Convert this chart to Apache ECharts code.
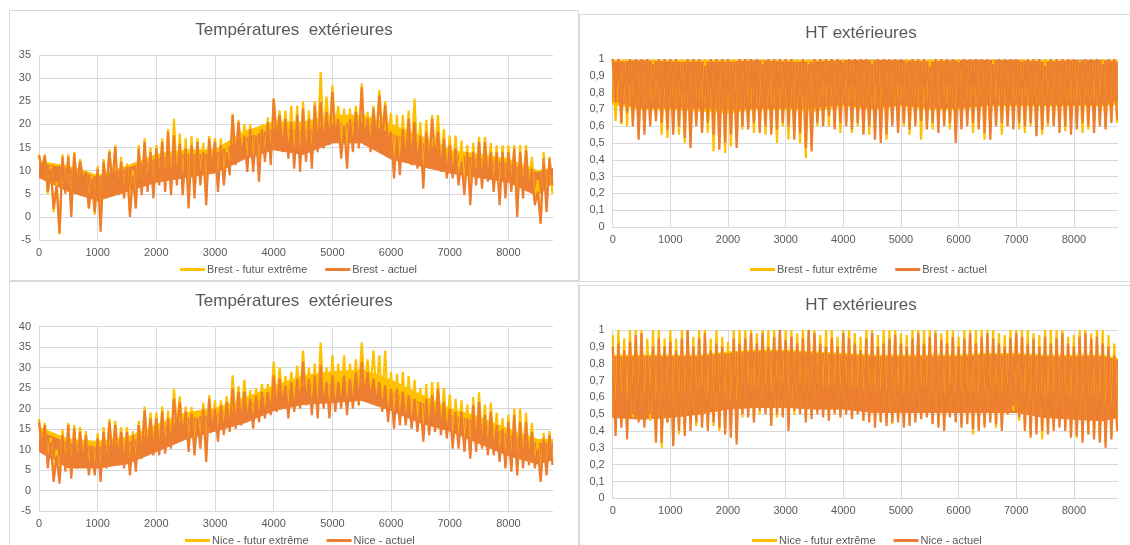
<!DOCTYPE html>
<html><head><meta charset="utf-8">
<script src="https://cdn.jsdelivr.net/npm/echarts@6/dist/echarts.min.js"></script>
<style>html,body{margin:0;padding:0;background:#fff}#c{width:1130px;height:545px}</style>
</head><body><div id="c"></div>
<script>
const STEP = 100;
const xTicks = [0,1000,2000,3000,4000,5000,6000,7000,8000];

const brestTempActuelHi = [13.3,13.3,10.4,6.8,13,13,13.7,12,9.7,8.3,10.4,11.9,14,15.1,11.9,10.8,9,14.8,16.2,14,14.8,16.2,18.4,17.6,15.8,14.8,15.5,16.2,14,16.9,16.2,15.5,14,22,20.5,17.6,19,17.6,19,20.5,25.6,22,21.2,20.5,22,23.4,21.2,24.1,24.8,22.7,27,21.2,19.8,21.2,22.7,28,21.2,23.4,26.3,24.1,18.4,17.6,19,21.2,20.5,17.6,18.4,21.2,18.4,16.9,15.5,14.8,11.9,14,14,16.2,16.2,14,14,14,14,14.8,14,14.4,10.4,5.4,12.6,12.6];
const brestTempActuelLo = [10,5.4,1.8,-3.5,5,0,6.8,8,1.8,1,-3.2,5.4,6.8,4.7,4,0,1.8,4.7,5.4,4,6.8,5.4,4.7,6.8,4.7,1.8,4,6.8,2.5,9.7,5.4,6.8,9,11.2,12.6,9.7,9.7,7.6,11.9,11.2,16.2,14,12.6,10.4,9.7,11.9,10.4,14,14.8,15.5,16.9,12.6,10.4,14,14.8,15.5,14,15.5,16.2,15.5,8.3,9,11.9,11.2,10.4,6.1,10.4,11.9,9.7,8.3,8.3,6.8,4.7,2.5,6.8,6.1,7.6,5.4,2.5,4,5.4,0,4,5.4,2.5,-1.5,1,6.8];
const brestTempFuturHi = [13.5,13.5,11,7.5,13.5,13.5,14,12.5,10,9,11,12.5,14.5,15.5,13,11.5,10,15.5,17,15,15.5,17,19,21.2,18,17,17.5,17,16,17.5,17,17,15,22.3,21,20,20,19,20,21.5,25.6,23,23,24,24,25,23,25,31.3,26,28.4,24,23.4,23.4,24,28.8,22.7,24,27.4,25,22.5,22,22,23,25.6,20.5,21,22,22,19,17.6,17.6,16.5,15.5,16,17.3,17.3,16,15.5,15.5,15.5,15.5,15.5,15.5,13,8,14,13];
const brestTempFuturLo = [10.5,5,1,-3.8,5.5,1,7,8.5,2,0.5,-2,6,7.5,5,4.5,1,2.5,5.5,6.5,5,7.5,6.5,6,8,6,3,5,8,4,11,7,8.5,10.5,12.5,14,11.5,11.5,9.5,13,13,18,16,14.5,12.5,12,14,12.5,16,17,17.5,19,15,13,16,17,17.5,16,17.5,18.5,17.5,10,11,13.5,13,12.5,8,12,13.5,11.5,10,9.5,8,6,4,8,7.5,9,6.5,4,5,6.5,1.5,5,6.5,3.5,-1,2.5,5];

const brestHrActuelHi = [1,1,0.98,1,1,1,1,0.97,1,1,1,1,0.98,1,1,1,0.96,1,1,1,1,0.98,1,1,1,1,0.97,1,1,1,1,1,0.98,1,0.97,1,1,1,1,1,0.98,1,1,1,1,0.97,1,1,1,1,1,0.98,1,1,1,0.96,1,1,1,1,0.98,1,1,1,1,1,0.97,1,1,1,1,0.98,1,1,1,0.96,1,1,1,1,1,0.98,1,1,1,0.97,1,1];
const brestHrActuelLo = [0.74,0.62,0.68,0.6,0.52,0.55,0.6,0.63,0.62,0.58,0.55,0.6,0.53,0.47,0.6,0.56,0.62,0.55,0.46,0.5,0.55,0.47,0.6,0.58,0.62,0.56,0.6,0.55,0.58,0.62,0.6,0.52,0.56,0.47,0.45,0.62,0.6,0.66,0.58,0.62,0.6,0.58,0.62,0.55,0.6,0.52,0.5,0.55,0.6,0.56,0.62,0.58,0.6,0.63,0.58,0.62,0.56,0.6,0.62,0.5,0.58,0.6,0.62,0.58,0.56,0.52,0.6,0.62,0.6,0.58,0.62,0.6,0.62,0.54,0.58,0.62,0.6,0.56,0.6,0.55,0.58,0.62,0.6,0.56,0.6,0.58,0.62,0.64];
const brestHrFuturHi = [1,1,1,1,0.99,1,1,1,1,1,1,0.99,1,1,1,1,1,1,0.99,1,1,1,1,1,1,0.99,1,1,1,1,1,1,1,0.99,1,1,1,1,1,1,1,1,0.99,1,1,1,1,1,1,1,0.99,1,1,1,1,1,1,1,0.99,1,1,1,1,1,1,0.99,1,1,1,1,1,1,1,0.99,1,1,1,1,1,1,1,0.99,1,1,1,1,1,1];
const brestHrFuturLo = [0.63,0.61,0.6,0.62,0.55,0.58,0.62,0.65,0.55,0.53,0.57,0.55,0.5,0.5,0.62,0.58,0.56,0.45,0.5,0.44,0.48,0.5,0.58,0.6,0.56,0.6,0.55,0.58,0.5,0.6,0.52,0.55,0.5,0.41,0.48,0.6,0.62,0.6,0.6,0.56,0.62,0.56,0.6,0.56,0.55,0.58,0.56,0.52,0.62,0.58,0.6,0.55,0.62,0.52,0.6,0.58,0.6,0.62,0.58,0.55,0.6,0.62,0.56,0.6,0.52,0.58,0.62,0.55,0.6,0.62,0.58,0.56,0.6,0.58,0.55,0.6,0.62,0.6,0.57,0.6,0.62,0.56,0.58,0.6,0.62,0.6,0.63,0.62];

const niceTempActuelHi = [16.7,16,11.9,8.6,13.5,16,15.1,14.3,13.5,11,12.7,14.3,16.7,16,14.3,14.3,13.5,16,19.6,17.6,17.6,19.2,17.6,22.4,21.6,19.2,18.8,17.6,20,22.4,20,20.8,21.6,24.9,24.1,24.1,22.4,23.3,24.1,24.1,28.1,27.3,25.7,26.5,27.3,31.4,27.3,28.1,30.6,26.5,28.1,26.5,28.1,27.3,28.9,31.4,28.9,27.3,26.5,25.7,24.9,24.9,24.1,23.3,22.4,21.6,22.4,23.3,24.9,21.6,20,19.2,19.2,17.6,20.8,21.6,18.4,19.2,16,15.1,16.7,18.4,16.7,16.7,14.3,10.2,12.7,13.5];
const niceTempActuelLo = [10.2,5.4,2.1,1.7,4.6,2.9,5.4,6.2,3.7,3.7,2.1,5.4,7.8,7,5.4,3.7,4.6,7.8,8.6,8.6,8.6,9,10.2,14.3,12.7,9.4,8.6,10.2,7,14.3,11.9,13.5,14.3,15.1,15.9,16.7,15.1,16.7,17.6,18.4,19.2,20.8,17.6,19.2,20,20.8,18.4,17.6,20,17.6,19.2,20,18.4,20,20.8,22.4,21.6,20.8,19.2,16.7,15.1,15.9,15.9,15.1,14.3,11.9,13.5,14.3,13.5,12.7,10.2,10.2,9.4,7.8,9.4,10.2,8.6,8.6,7,5.4,4.6,3.7,5.4,6.2,5.4,2.1,3.7,6.2];
const niceTempFuturHi = [17.5,16.5,13,10,15,16.5,16,15.5,14.5,12,14,15.5,17.5,17,15.5,15.5,14.5,17,20.5,19,19,20.5,19.5,24.9,23,20.5,20.4,19.5,21.5,23.3,22,22,23,28.1,25.5,27,24.5,25,26,26,31.4,30,28,29,30.5,34.2,30,31,36.1,30,33,31,33,31,32,36.1,32,34.2,33,34.2,29,28.5,29,28,27,25,26,26.5,26.5,25,23.5,22.4,22,21,22.8,24,21,21.5,19,17.6,18.5,20,20,19,16.5,12,14,14.5];
const niceTempFuturLo = [11,7,3,2.5,6,4,6.5,7.5,5,5,3.5,6.5,9,8.5,7,5,6,9,10,10,10,10.5,11.5,16,14,11,10.5,12,8.5,16,13.5,15.5,16,17,18,18.5,17,18.5,19.5,20.5,21.5,23,20,21.5,22.5,23,21,20,22.5,20,21.5,22.5,21,22.5,23.5,25,24.5,23.5,21.5,19,17,17.5,17.5,17,16,13.5,15,16,15,14,11.5,11.5,10.5,9,10.5,11.5,10,10,8,6.5,5.5,4.5,6.5,7,6.5,3,4.5,7];

const niceHrActuelHi = [0.9,0.92,0.88,0.93,0.97,0.98,0.85,0.9,0.95,0.9,0.93,0.88,0.95,1,0.9,0.95,0.98,0.88,0.92,0.9,0.86,0.95,0.92,0.95,0.98,0.92,0.98,0.9,0.96,1,0.94,0.96,0.92,0.95,1,0.98,0.92,0.9,0.95,0.9,0.98,0.95,0.92,0.88,0.95,0.98,0.9,0.92,0.95,0.97,0.92,0.9,0.95,0.98,0.92,0.96,0.98,0.94,0.92,0.96,0.9,0.95,0.98,0.92,0.96,0.98,0.95,0.92,0.9,0.95,0.98,0.96,0.92,0.95,0.9,0.96,0.92,0.95,0.98,0.92,0.9,0.96,0.98,0.95,0.96,0.92,0.9,0.85];
const niceHrActuelLo = [0.37,0.42,0.35,0.5,0.45,0.42,0.5,0.33,0.33,0.45,0.31,0.4,0.37,0.4,0.45,0.42,0.4,0.45,0.42,0.38,0.36,0.32,0.5,0.48,0.45,0.52,0.5,0.43,0.5,0.48,0.4,0.52,0.5,0.45,0.47,0.5,0.48,0.46,0.5,0.48,0.5,0.47,0.5,0.46,0.45,0.42,0.45,0.43,0.45,0.45,0.42,0.43,0.45,0.47,0.48,0.44,0.42,0.4,0.48,0.45,0.42,0.44,0.41,0.4,0.42,0.45,0.44,0.4,0.5,0.55,0.48,0.4,0.36,0.38,0.4,0.38,0.4,0.42,0.4,0.36,0.37,0.33,0.38,0.35,0.33,0.3,0.35,0.4];
const niceHrFuturHi = [0.97,1,0.95,1,1,1,0.95,1,1,0.95,1,0.95,1,1,0.96,1,1,0.95,1,0.96,0.93,1,1,1,1,0.98,1,1,1,1,1,1,0.98,1,1,1,0.97,1,1,0.96,1,1,0.98,0.96,1,1,0.97,1,1,1,0.98,0.97,1,1,1,1,1,0.98,1,1,0.96,1,1,1,1,1,1,0.98,0.97,1,1,1,1,0.98,0.97,1,1,1,1,0.96,0.97,1,1,0.98,1,1,0.97,0.92];
const niceHrFuturLo = [0.4,0.45,0.4,0.48,0.47,0.45,0.46,0.36,0.3,0.45,0.33,0.38,0.4,0.44,0.43,0.45,0.42,0.43,0.4,0.4,0.4,0.35,0.48,0.5,0.47,0.5,0.52,0.45,0.48,0.5,0.43,0.5,0.52,0.47,0.5,0.52,0.5,0.48,0.52,0.5,0.52,0.48,0.52,0.47,0.48,0.45,0.46,0.45,0.44,0.47,0.44,0.45,0.47,0.48,0.5,0.46,0.44,0.43,0.5,0.46,0.44,0.46,0.38,0.42,0.44,0.47,0.42,0.42,0.5,0.52,0.46,0.42,0.38,0.4,0.35,0.4,0.42,0.44,0.42,0.38,0.36,0.35,0.38,0.37,0.34,0.33,0.36,0.42];

// Dense core of each band (where the trace is almost solid), read every 500 h
const coreHours = [0,500,1000,1500,2000,2500,3000,3500,4000,4500,5000,5500,6000,6500,7000,7500,8000,8500,8760];
const brestTempActuelCoreHi = [11.5,10.5,8.5,10.5,12.5,13.5,13.5,17,19,18.5,20,20.5,18,16,13.5,12.5,11.5,9.5,10.5];
const brestTempActuelCoreLo = [8.5,5.5,3.5,5.5,7.5,8.5,9.5,12.5,14.5,13.5,16,16,12.5,11,9.5,8.5,7.5,4.5,7.5];
const brestTempFuturCoreHi = [12,11,9,11,13.5,14.5,14.5,18.5,20.5,20.5,22,22,20,17.5,14.5,13.5,12.5,10,10.5];
const brestTempFuturCoreLo = [9,6,4,6,8,9,10,13,15,15,17,17,15,12,10,9,8,5,7.5];
const brestHrActuelCoreHi = [0.98,0.99,0.98,0.98,0.98,0.99,0.98,0.98,0.99,0.99,0.99,0.98,0.99,0.99,0.99,0.98,0.99,0.99,0.98];
const brestHrActuelCoreLo = [0.75,0.71,0.71,0.71,0.7,0.71,0.71,0.71,0.73,0.71,0.73,0.71,0.71,0.73,0.73,0.73,0.73,0.73,0.75];
const brestHrFuturCoreHi = [0.99,0.99,0.99,0.99,0.99,0.99,0.99,0.99,0.99,0.99,0.99,0.99,0.99,0.99,0.99,0.99,0.99,0.99,0.99];
const brestHrFuturCoreLo = [0.73,0.7,0.7,0.69,0.68,0.7,0.7,0.69,0.72,0.7,0.72,0.7,0.7,0.72,0.72,0.72,0.72,0.72,0.73];
const niceTempActuelCoreHi = [14.5,11.5,10.5,11.5,14.5,17.5,18.5,20.5,23.5,25.5,26,26.5,24,21.5,18.5,16.5,13.5,11.5,11.5];
const niceTempActuelCoreLo = [9.5,5.5,5.5,6.5,9.5,12.5,14.5,16.5,19.5,21,21.5,22,19.5,16.5,14.5,11.5,8.5,6.5,7.5];
const niceTempFuturCoreHi = [15.5,12.5,12,13,16,19,20,22.5,25.5,28,29,29.5,27,23.5,20,18,15,12.5,12.5];
const niceTempFuturCoreLo = [10,6,6,7,10,13,15,18,21,22.5,23.5,24,21.5,17.5,15,12,9,7,8];
const niceHrActuelCoreHi = [0.84,0.84,0.84,0.84,0.86,0.87,0.87,0.86,0.85,0.84,0.84,0.84,0.84,0.85,0.85,0.84,0.84,0.84,0.82];
const niceHrActuelCoreLo = [0.48,0.47,0.48,0.5,0.53,0.54,0.54,0.53,0.53,0.51,0.51,0.51,0.51,0.51,0.51,0.48,0.47,0.46,0.48];
const niceHrFuturCoreHi = [0.85,0.85,0.85,0.85,0.87,0.88,0.88,0.87,0.86,0.85,0.85,0.85,0.85,0.86,0.86,0.85,0.85,0.85,0.83];
const niceHrFuturCoreLo = [0.5,0.49,0.5,0.51,0.54,0.55,0.55,0.54,0.54,0.52,0.52,0.52,0.52,0.52,0.52,0.5,0.48,0.48,0.5];

function zig(hi, lo) {
  const d = [];
  for (let i = 0; i < hi.length; i++) {
    d.push([i * STEP, hi[i]]);
    d.push([i * STEP + STEP / 2, lo[i]]);
  }
  return d;
}

const YELLOW = '#FFC000', ORANGE = '#ED7D31', GRID = '#d9d9d9', TXT = '#595959';
const FONT = 'Liberation Sans, Arial, sans-serif';

const grids = [
  {left: 39, top: 55, width: 514, height: 185},
  {left: 612.7, top: 59, width: 505, height: 168},
  {left: 39, top: 326.7, width: 514, height: 184.3},
  {left: 612.7, top: 330, width: 505, height: 168.3}
];
const yRanges = [[-5, 35, 5], [0, 1, 0.1], [-5, 40, 5], [0, 1, 0.1]];

function hrFmt(v) {
  const r = Math.round(v * 10) / 10;
  return String(r).replace('.', ',');
}

const xAxes = grids.map((g, i) => ({
  type: 'value', gridIndex: i, min: 0, max: 8760, interval: 1000,
  axisLine: {show: true, onZero: true, lineStyle: {color: GRID}},
  axisTick: {show: false},
  splitLine: {show: true, showMaxLine: false, lineStyle: {color: GRID}},
  axisLabel: {color: TXT, fontSize: 11, fontFamily: FONT, margin: 7, showMaxLabel: false,
    formatter: v => (xTicks.indexOf(v) >= 0 ? String(v) : '')}
}));
const yAxes = grids.map((g, i) => ({
  type: 'value', gridIndex: i, min: yRanges[i][0], max: yRanges[i][1], interval: yRanges[i][2],
  axisLine: {show: false}, axisTick: {show: false},
  splitLine: {show: true, lineStyle: {color: GRID}},
  axisLabel: {color: TXT, fontSize: 11, fontFamily: FONT, margin: 8,
    formatter: (i % 2 === 1) ? hrFmt : (v => String(v))}
}));

function ser(name, idx, color, hi, lo) {
  return {name, type: 'line', xAxisIndex: idx, yAxisIndex: idx, data: zig(hi, lo),
    showSymbol: false, symbol: 'none', lineStyle: {color, width: 2.2}, itemStyle: {color},
    animation: false, silent: true};
}
// filled band between the read core envelopes, positioned through the axes' scales
function core(idx, color, hi, lo) {
  return {type: 'custom', xAxisIndex: idx, yAxisIndex: idx, data: [0], silent: true, animation: false, clip: true,
    renderItem: (params, api) => {
      const pts = [];
      for (let i = 0; i < coreHours.length; i++) pts.push(api.coord([coreHours[i], hi[i]]));
      for (let i = coreHours.length - 1; i >= 0; i--) pts.push(api.coord([coreHours[i], lo[i]]));
      return {type: 'polygon', shape: {points: pts}, style: {fill: color, stroke: color, lineWidth: 1}};
    }};
}

const series = [
  core(0, YELLOW, brestTempFuturCoreHi, brestTempFuturCoreLo),
  ser('Brest - futur extrême', 0, YELLOW, brestTempFuturHi, brestTempFuturLo),
  core(0, ORANGE, brestTempActuelCoreHi, brestTempActuelCoreLo),
  ser('Brest - actuel', 0, ORANGE, brestTempActuelHi, brestTempActuelLo),
  core(1, YELLOW, brestHrFuturCoreHi, brestHrFuturCoreLo),
  ser('Brest - futur extrême ', 1, YELLOW, brestHrFuturHi, brestHrFuturLo),
  core(1, ORANGE, brestHrActuelCoreHi, brestHrActuelCoreLo),
  ser('Brest - actuel ', 1, ORANGE, brestHrActuelHi, brestHrActuelLo),
  core(2, YELLOW, niceTempFuturCoreHi, niceTempFuturCoreLo),
  ser('Nice - futur extrême', 2, YELLOW, niceTempFuturHi, niceTempFuturLo),
  core(2, ORANGE, niceTempActuelCoreHi, niceTempActuelCoreLo),
  ser('Nice - actuel', 2, ORANGE, niceTempActuelHi, niceTempActuelLo),
  core(3, YELLOW, niceHrFuturCoreHi, niceHrFuturCoreLo),
  ser('Nice - futur extrême ', 3, YELLOW, niceHrFuturHi, niceHrFuturLo),
  core(3, ORANGE, niceHrActuelCoreHi, niceHrActuelCoreLo),
  ser('Nice - actuel ', 3, ORANGE, niceHrActuelHi, niceHrActuelLo)
];

function leg(names, left, top) {
  return {data: names.map(n => ({name: n, icon: 'rect'})), left, top, itemWidth: 25, itemHeight: 3, itemGap: 18,
    textStyle: {color: TXT, fontSize: 11, fontFamily: FONT, padding: [0, 0, 0, -3]}, selectedMode: false,
    formatter: n => n.trim()};
}

function ttl(text, x, y) {
  return {type: 'text', x, y, silent: true,
    style: {text, fill: TXT, font: '17px ' + FONT, textAlign: 'center', textVerticalAlign: 'middle'}};
}
function box(x, y, w, h) {
  return {type: 'rect', silent: true, z: -10, shape: {x, y, width: w, height: h},
    style: {fill: 'none', stroke: GRID, lineWidth: 1}};
}

const chart = echarts.init(document.getElementById('c'), null, {renderer: 'canvas'});
chart.setOption({
  backgroundColor: '#ffffff',
  animation: false,
  grid: grids,
  xAxis: xAxes,
  yAxis: yAxes,
  legend: [
    leg(['Brest - futur extrême', 'Brest - actuel'], 175, 259),
    leg(['Brest - futur extrême ', 'Brest - actuel '], 745, 259),
    leg(['Nice - futur extrême', 'Nice - actuel'], 180, 530),
    leg(['Nice - futur extrême ', 'Nice - actuel '], 747, 530)
  ],
  graphic: [
    box(9.5, 10.5, 569, 270),
    box(579.5, 14.5, 560, 267),
    box(9.5, 281.5, 569, 280),
    box(579.5, 285.5, 560, 280),
    ttl('Températures  extérieures', 294, 30),
    ttl('HT extérieures', 861, 33),
    ttl('Températures  extérieures', 294, 301),
    ttl('HT extérieures', 861, 305)
  ],
  series
});
</script></body></html>
